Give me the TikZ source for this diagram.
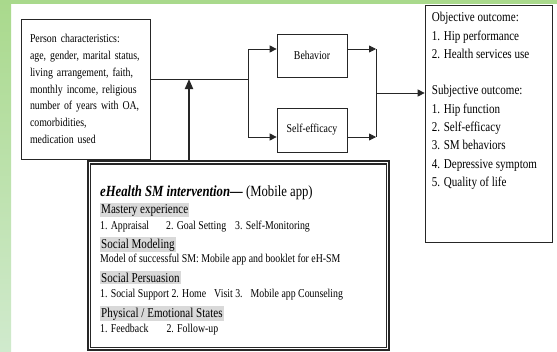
\documentclass[tikz,border=0pt]{standalone}
\usepackage{fontspec}
\setmainfont{Liberation Serif}[FakeStretch=0.82]
\usetikzlibrary{arrows.meta}
\definecolor{bggreen}{HTML}{A9D98C}
\definecolor{bggreenlight}{HTML}{D0EACD}
\definecolor{headgray}{HTML}{D9D9D9}

\begin{document}
\begin{tikzpicture}[x=1pt,y=-1pt,
    box/.style={draw=black!85,line width=0.7pt,rectangle,inner sep=0pt},
    link/.style={draw=black!85,line width=0.8pt},
    tip/.style={-{Triangle[length=7pt,width=7pt]}},
    itemtext/.style={anchor=base west,inner sep=0pt,font=\fontsize{12}{14}\selectfont},
    headtext/.style={anchor=base west,inner xsep=1pt,inner ysep=1.5pt,fill=headgray,font=\fontsize{13.5}{15}\selectfont}]
  % page and green border
  \useasboundingbox (0,0) rectangle (557,351);
  \fill[white] (0,0) rectangle (557,351);
  \shade[top color=bggreen,bottom color=bggreenlight] (0,0) rectangle (11,351);
  \fill[bggreen] (0,0) rectangle (557,4);

  % boxes
  \node[box,minimum width=129pt,minimum height=140pt,text width=111pt,inner xsep=9pt,align=left,
        font=\fontsize{12}{16.8}\selectfont] (person) at (85.5,89)
    {Person characteristics:\\ age, gender, marital status,\\ living arrangement, faith,\\ monthly income, religious\\ number of years with OA,\\ comorbidities,\\ medication used};
  \node[box,minimum width=70pt,minimum height=43pt,font=\fontsize{12}{14}\selectfont] (behavior) at (312,55.5) {Behavior};
  \node[box,minimum width=70pt,minimum height=44pt,font=\fontsize{12}{14}\selectfont] (selfeff) at (312,130) {Self-efficacy};
  \node[box,minimum width=127pt,minimum height=237pt] (outcome) at (488.5,123.5) {};
  \node[anchor=north west,align=left,inner sep=0pt,font=\fontsize{13.5}{18.3}\selectfont] (outtext)
    at ([xshift=7pt,yshift=-7.5pt]outcome.north west)
    {Objective outcome:\\ 1. Hip performance\\ 2. Health services use\\[18.3pt]
     Subjective outcome:\\ 1. Hip function\\ 2. Self-efficacy\\ 3. SM behaviors\\ 4. Depressive symptom\\ 5. Quality of life};

  % intervention (double frame)
  \node[box,line width=1.2pt,minimum width=301pt,minimum height=189pt] (interv) at (238.5,255.5) {};
  \draw[line width=1.6pt,black!85] ([xshift=3pt,yshift=-3.5pt]interv.north west) rectangle ([xshift=-3pt,yshift=3pt]interv.south east);
  \node[anchor=base west,inner sep=0pt,font=\fontsize{15.5}{17}\selectfont] (title) at (100,196)
    {\textbf{\textit{eHealth SM intervention—}} (Mobile app)};
  \node[headtext] (mastery) at (100,213) {Mastery experience};
  \node[itemtext] (masteryitems) at (100,229) {1. Appraisal\hspace{17pt}2. Goal Setting\hspace{9pt}3. Self-Monitoring};
  \node[headtext] (modeling) at (100,248) {Social Modeling};
  \node[itemtext] (modelingitems) at (100,262) {Model of successful SM: Mobile app and booklet for eH-SM};
  \node[headtext] (persuasion) at (100,282) {Social Persuasion};
  \node[itemtext] (persuasionitems) at (100,297) {1. Social Support 2. Home\hspace{8pt}Visit 3.\hspace{8pt}Mobile app Counseling};
  \node[headtext] (states) at (100,317) {Physical / Emotional States};
  \node[itemtext] (statesitems) at (100,332) {1. Feedback\hspace{18pt}2. Follow-up};

  % connectors
  \coordinate (split) at (248,79);
  \coordinate (join) at (376,93);
  \coordinate (bout) at ([yshift=6.5pt]behavior.east);
  \coordinate (sout) at ([yshift=-7pt]selfeff.east);
  \coordinate (up) at ([xshift=-49.5pt]interv.north);
  \draw[link] ([yshift=10pt]person.east) -- (split);
  \draw[link,tip] (split) |- ([yshift=6.5pt]behavior.west);
  \draw[link,tip] (split) |- ([yshift=-7pt]selfeff.west);
  \draw[link,tip] (bout) -- (bout -| join);
  \draw[link,tip] (sout) -- (sout -| join);
  \draw[link] (bout -| join) -- (sout -| join);
  \draw[link,tip] (join) -- (join -| outcome.west);
  \draw[line width=1.8pt,black!85,-{Triangle[length=10pt,width=8pt]}] (up) -- (up |- split);
\end{tikzpicture}
\end{document}
